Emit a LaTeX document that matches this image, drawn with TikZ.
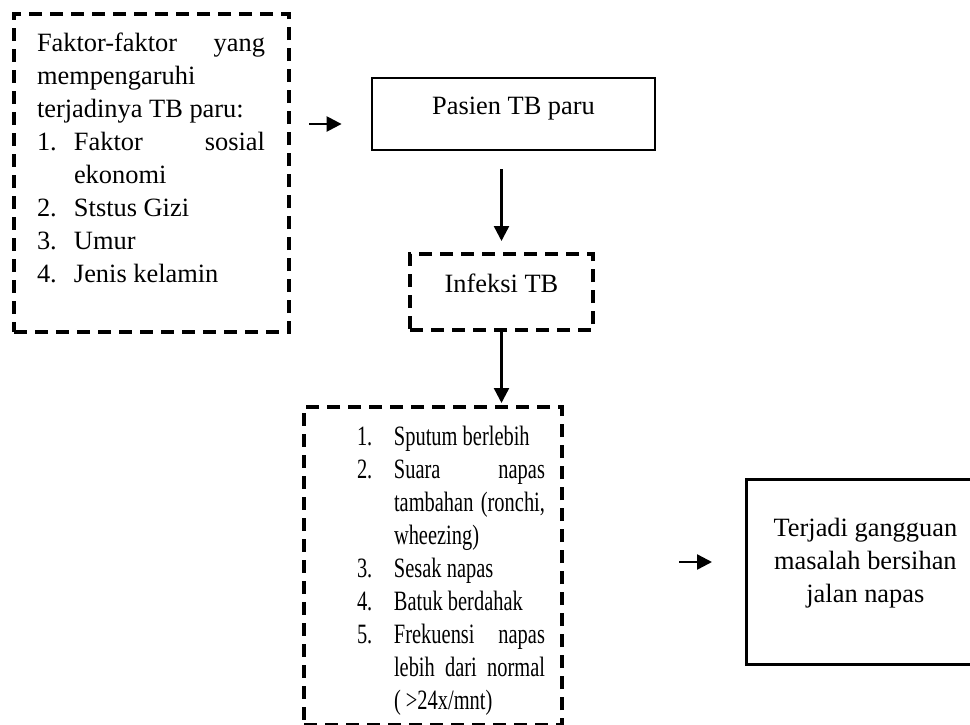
\documentclass[tikz,border=0pt]{standalone}
\usepackage{fontspec}
\setmainfont{Liberation Serif}
\newfontfamily\narrowserif[FakeStretch=0.73]{Liberation Serif}
\usetikzlibrary{arrows.meta,positioning,calc}

\begin{document}
\begin{tikzpicture}[x=0.5pt, y=-0.5pt,
    every node/.style={font=\fontsize{13.2}{16.5}\selectfont, inner sep=0pt},
    dashbox/.style={draw, line width=2pt, dash pattern=on 6.5pt off 4pt},
    solidbox/.style={draw, line width=1.4pt},
    arr/.style={-{Triangle[length=7.5pt,width=7.5pt]}, line width=1.2pt}]
    \useasboundingbox (0,0) rectangle (970,724);
    \clip (0,0) rectangle (970,724);
    \node[dashbox, anchor=north west] (faktor) at (12,12)
      {\parbox[t][159pt][t]{137.5pt}{\leftskip=11.5pt \rightskip=12pt
       \vspace*{9.5pt}%
       Faktor-faktor\hfill yang\\
       mempengaruhi\\
       terjadinya TB paru:\\
       \makebox[18.5pt][l]{1.}Faktor\hfill sosial\\
       \hspace*{18.5pt}ekonomi\\
       \makebox[18.5pt][l]{2.}Ststus Gizi\\
       \makebox[18.5pt][l]{3.}Umur\\
       \makebox[18.5pt][l]{4.}Jenis kelamin}};
    \node[solidbox, minimum width=141.5pt, text height=18pt, text depth=18pt] (pasien)
      at (513.5,114) {Pasien TB paru};
    \node[dashbox, minimum width=91.5pt, text height=19pt, text depth=19pt] (infeksi)
      at (501.5,292) {Infeksi TB};
    \node[dashbox, anchor=north west] (gejala) at (302,405)
      {\parbox[t][159pt][t]{129pt}{\narrowserif\fontsize{14}{16.5}\selectfont
       \leftskip=26.5pt \rightskip=8.5pt
       \vspace*{9.4pt}%
       \makebox[18.5pt][l]{1.}Sputum berlebih\\
       \makebox[18.5pt][l]{2.}Suara\hfill napas\\
       \hspace*{18.5pt}tambahan\hfill (ronchi,\\
       \hspace*{18.5pt}wheezing)\\
       \makebox[18.5pt][l]{3.}Sesak napas\\
       \makebox[18.5pt][l]{4.}Batuk berdahak\\
       \makebox[18.5pt][l]{5.}Frekuensi\hfill napas\\
       \hspace*{18.5pt}lebih\hfill dari\hfill normal\\
       \hspace*{18.5pt}(\ >24x/mnt)}};
    \node[solidbox, anchor=north west] (terjadi) at (745,478)
      {\parbox[t][92.5pt][t]{119pt}{\centering\vspace*{19.5pt}%
       Terjadi gangguan\\
       masalah bersihan\\
       jalan napas}};
    \draw[arr, shorten <=9pt, shorten >=14.5pt]
      ($(faktor.east |- pasien.west)+(0,10)$) -- ($(pasien.west)+(0,10)$);
    \draw[arr, shorten <=9pt, shorten >=5.5pt] (pasien.south -| infeksi.north) -- (infeksi.north);
    \draw[arr, shorten >=1pt] (infeksi.south) -- (infeksi.south |- gejala.north);
    \draw[arr, shorten <=57.5pt, shorten >=16.5pt]
      ($(gejala.east)+(0,-4)$) -- ($(gejala.east -| terjadi.west)+(0,-4)$);
\end{tikzpicture}
\end{document}
